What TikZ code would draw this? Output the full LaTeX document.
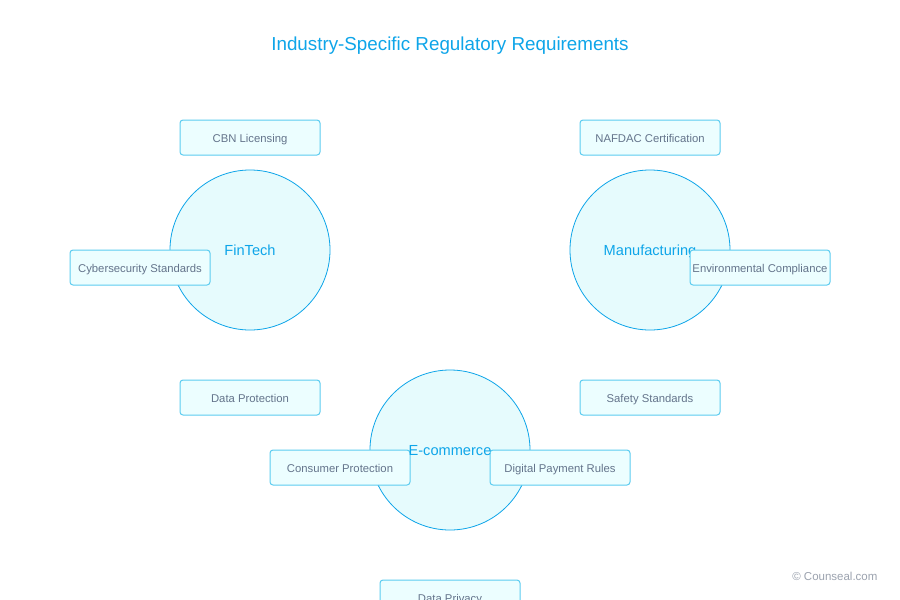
\documentclass[tikz,border=0pt]{standalone}
\usepackage{fontspec}
\setmainfont{Liberation Sans}
\definecolor{skyline}{HTML}{0EA5E9}
\definecolor{circfill}{HTML}{E6FBFD}
\definecolor{boxline}{HTML}{5CCCF0}
\definecolor{boxfill}{HTML}{ECFEFF}
\definecolor{boxtext}{HTML}{64748B}
\definecolor{marktext}{HTML}{9CA3AF}
\tikzset{
  industry/.style={circle, draw=skyline, fill=circfill, line width=0.8pt, minimum size=160pt, inner sep=0pt},
  indlabel/.style={text=skyline, font=\fontsize{14.6}{16}\selectfont, text height=10.5pt, text depth=0pt, inner sep=0pt},
  reqbox/.style={draw=boxline, fill=boxfill, line width=1pt, rounded corners=3pt, minimum width=140pt, minimum height=35pt, inner sep=0pt, text=boxtext, font=\fontsize{11.3}{13}\selectfont, text height=11pt, text depth=1pt},
}
\begin{document}
\begin{tikzpicture}[x=1pt,y=-1pt]
\useasboundingbox (0,0) rectangle (900,600);
\fill[white] (0,0) rectangle (900,600);
\node[text=skyline, font=\fontsize{18.8}{22}\selectfont] (title) at (450,46) {Industry-Specific Regulatory Requirements};

\node[industry] (fintech) at (250,250) {};
\node[indlabel] (fintechlbl) at (250,250) {FinTech};
\node[industry] (manuf) at (650,250) {};
\node[indlabel] (manuflbl) at (650,250) {Manufacturing};
\node[industry] (ecom) at (450,450) {};

\node[reqbox] (cbn) at (250,137.5) {CBN Licensing};
\node[reqbox] (cyber) at (140,267.5) {Cybersecurity Standards};
\node[reqbox] (dataprot) at (250,397.5) {Data Protection};
\node[reqbox] (nafdac) at (650,137.5) {NAFDAC Certification};
\node[reqbox] (env) at (760,267.5) {Environmental Compliance};
\node[reqbox] (safety) at (650,397.5) {Safety Standards};
\node[reqbox] (consumer) at (340,467.5) {Consumer Protection};
\node[reqbox] (digital) at (560,467.5) {Digital Payment Rules};
\node[reqbox] (privacy) at (450,597.5) {Data Privacy};
\node[indlabel] (ecomlbl) at (450,450) {E-commerce};

\node[text=marktext, font=\fontsize{11.5}{13}\selectfont, anchor=east] (mark) at (881,576) {© Counseal.com};
\end{tikzpicture}
\end{document}
